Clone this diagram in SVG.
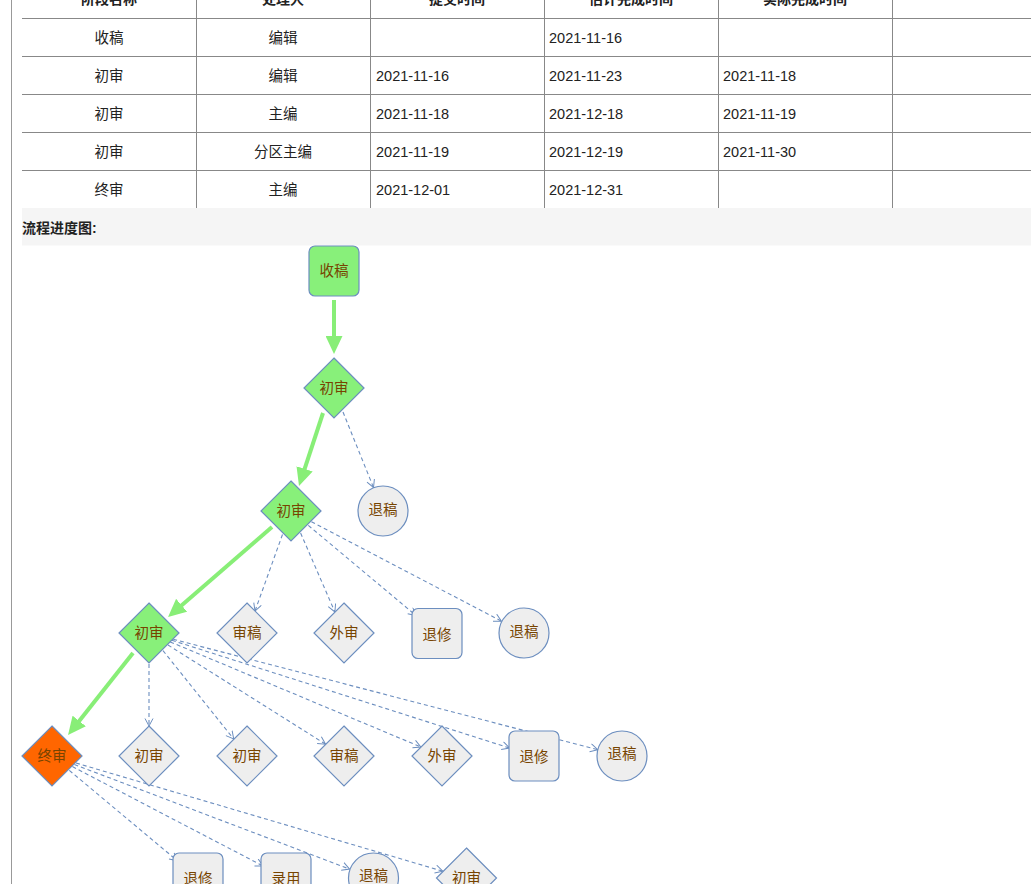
<svg xmlns="http://www.w3.org/2000/svg" width="1031" height="884" viewBox="0 0 1031 884">
<style>
text{font-family:"Liberation Sans","Noto Sans CJK SC",sans-serif;}
.cell{font-size:14.5px;fill:#222;}
.hdr{font-size:14px;font-weight:bold;fill:#222;}
.grid{stroke:#888;stroke-width:1;fill:none;}
.lbl{font-size:14.5px;fill:#774400;text-anchor:middle;dominant-baseline:central;}
.ok{fill:#88f07a;stroke:#6c8ebf;stroke-width:1.2;}
.todo{fill:#eeeeee;stroke:#6c8ebf;stroke-width:1.2;}
.cur{fill:#ff6600;stroke:#6c8ebf;stroke-width:1.2;}
.done{stroke:#88ee77;stroke-width:4;fill:none;marker-end:url(#gArrow);}
.opt{stroke:#6c8ebf;stroke-width:1.1;stroke-dasharray:4 3;fill:none;marker-end:url(#bArrow);}
</style>
<defs>
<marker id="gArrow" markerUnits="userSpaceOnUse" markerWidth="18" markerHeight="17" refX="1" refY="8.5" orient="auto">
<path d="M0,0 L18,8.5 L0,17 z" fill="#88ee77"/>
</marker>
<marker id="bArrow" markerUnits="userSpaceOnUse" markerWidth="10" markerHeight="10" refX="8" refY="4.5" orient="auto">
<path d="M0.5,0.5 L8,4.5 L0.5,8.5" fill="none" stroke="#6c8ebf" stroke-width="1"/>
</marker>
</defs>
<rect x="0" y="0" width="1031" height="884" fill="#ffffff"/>
<line x1="11.5" y1="0" x2="11.5" y2="884" stroke="#999" stroke-width="1"/>

<g id="table">
<g class="grid">
<line x1="22" y1="18.5" x2="1031" y2="18.5"/>
<line x1="22" y1="56.5" x2="1031" y2="56.5"/>
<line x1="22" y1="94.5" x2="1031" y2="94.5"/>
<line x1="22" y1="132.5" x2="1031" y2="132.5"/>
<line x1="22" y1="170.5" x2="1031" y2="170.5"/>
<line x1="196.5" y1="0" x2="196.5" y2="208"/>
<line x1="370.5" y1="0" x2="370.5" y2="208"/>
<line x1="544.5" y1="0" x2="544.5" y2="208"/>
<line x1="718.5" y1="0" x2="718.5" y2="208"/>
<line x1="892.5" y1="0" x2="892.5" y2="208"/>
</g>
<g class="hdr">
<text x="109" y="4" text-anchor="middle">阶段名称</text>
<text x="283" y="4" text-anchor="middle">处理人</text>
<text x="457" y="4" text-anchor="middle">提交时间</text>
<text x="631" y="4" text-anchor="middle">估计完成时间</text>
<text x="805" y="4" text-anchor="middle">实际完成时间</text>
</g>
<g class="cell">
<text x="109" y="42.5" text-anchor="middle">收稿</text>
<text x="283" y="42.5" text-anchor="middle">编辑</text>
<text x="549" y="42.5">2021-11-16</text>

<text x="109" y="80.5" text-anchor="middle">初审</text>
<text x="283" y="80.5" text-anchor="middle">编辑</text>
<text x="376" y="80.5">2021-11-16</text>
<text x="549" y="80.5">2021-11-23</text>
<text x="723" y="80.5">2021-11-18</text>

<text x="109" y="118.5" text-anchor="middle">初审</text>
<text x="283" y="118.5" text-anchor="middle">主编</text>
<text x="376" y="118.5">2021-11-18</text>
<text x="549" y="118.5">2021-12-18</text>
<text x="723" y="118.5">2021-11-19</text>

<text x="109" y="156.5" text-anchor="middle">初审</text>
<text x="283" y="156.5" text-anchor="middle">分区主编</text>
<text x="376" y="156.5">2021-11-19</text>
<text x="549" y="156.5">2021-12-19</text>
<text x="723" y="156.5">2021-11-30</text>

<text x="109" y="194.5" text-anchor="middle">终审</text>
<text x="283" y="194.5" text-anchor="middle">主编</text>
<text x="376" y="194.5">2021-12-01</text>
<text x="549" y="194.5">2021-12-31</text>
</g>
</g>

<g id="section-title">
<rect x="22" y="208" width="1009" height="37.5" fill="#f5f5f5"/>
<text x="22" y="232.5" class="hdr">流程进度图:</text>
</g>

<g id="connectors">
<line class="done" x1="334" y1="300" x2="334" y2="337"/>
<line class="done" x1="323" y1="413" x2="304.3" y2="469.8"/>
<line class="done" x1="272" y1="527" x2="180.9" y2="605.9"/>
<line class="done" x1="133" y1="653" x2="78.6" y2="721.7"/>

<line class="opt" x1="343" y1="412" x2="373.5" y2="487.5"/>

<line class="opt" x1="282.5" y1="534.5" x2="255" y2="611"/>
<line class="opt" x1="300.6" y1="533" x2="334.9" y2="612"/>
<line class="opt" x1="308.3" y1="525.4" x2="416" y2="615.5"/>
<line class="opt" x1="311.4" y1="521.7" x2="501.5" y2="621.2"/>

<line class="opt" x1="149" y1="664" x2="149" y2="726"/>
<line class="opt" x1="163" y1="650.6" x2="233.7" y2="739"/>
<line class="opt" x1="168" y1="645" x2="325.6" y2="744.2"/>
<line class="opt" x1="170.2" y1="641.9" x2="420.9" y2="747"/>
<line class="opt" x1="171.9" y1="640.3" x2="509.5" y2="748"/>
<line class="opt" x1="173.2" y1="639.3" x2="597.8" y2="749.7"/>

<line class="opt" x1="69.3" y1="770.4" x2="177.3" y2="860.7"/>
<line class="opt" x1="72.4" y1="766.6" x2="263" y2="866"/>
<line class="opt" x1="74.4" y1="764.5" x2="349.6" y2="869.1"/>
<line class="opt" x1="76" y1="763" x2="442.8" y2="871.2"/>
</g>

<g id="n-shougao"><rect class="ok" x="309" y="246" width="50" height="50" rx="6"/><text class="lbl" x="334" y="271">收稿</text></g>
<g id="n-chushen1"><path class="ok" d="M334,358 L364,388 L334,418 L304,388 z"/><text class="lbl" x="334" y="388">初审</text></g>
<g id="n-chushen2"><path class="ok" d="M291,481 L321,511 L291,541 L261,511 z"/><text class="lbl" x="291" y="511">初审</text></g>
<g id="n-tuigao1"><circle class="todo" cx="383" cy="511" r="25"/><text class="lbl" x="383" y="510">退稿</text></g>

<g id="n-chushen3"><path class="ok" d="M149,603 L179,633 L149,663 L119,633 z"/><text class="lbl" x="149" y="633">初审</text></g>
<g id="n-shengao1"><path class="todo" d="M247,603 L277,633 L247,663 L217,633 z"/><text class="lbl" x="247" y="633">审稿</text></g>
<g id="n-waishen1"><path class="todo" d="M344,603 L374,633 L344,663 L314,633 z"/><text class="lbl" x="344" y="633">外审</text></g>
<g id="n-tuixiu1"><rect class="todo" x="412" y="608.5" width="50" height="50" rx="6"/><text class="lbl" x="437" y="635">退修</text></g>
<g id="n-tuigao2"><circle class="todo" cx="524" cy="633" r="25"/><text class="lbl" x="524" y="632">退稿</text></g>

<g id="n-zhongshen"><path class="cur" d="M52,726 L82,756 L52,786 L22,756 z"/><text class="lbl" x="52" y="756">终审</text></g>
<g id="n-chushen4"><path class="todo" d="M149,726 L179,756 L149,786 L119,756 z"/><text class="lbl" x="149" y="756">初审</text></g>
<g id="n-chushen5"><path class="todo" d="M247,726 L277,756 L247,786 L217,756 z"/><text class="lbl" x="247" y="756">初审</text></g>
<g id="n-shengao2"><path class="todo" d="M344,726 L374,756 L344,786 L314,756 z"/><text class="lbl" x="344" y="756">审稿</text></g>
<g id="n-waishen2"><path class="todo" d="M442,726 L472,756 L442,786 L412,756 z"/><text class="lbl" x="442" y="756">外审</text></g>
<g id="n-tuixiu2"><rect class="todo" x="509" y="731" width="50" height="50" rx="6"/><text class="lbl" x="534" y="757">退修</text></g>
<g id="n-tuigao3"><circle class="todo" cx="622" cy="756" r="25"/><text class="lbl" x="622" y="754">退稿</text></g>

<g id="n-tuixiu3"><rect class="todo" x="173" y="853" width="50" height="50" rx="6"/><text class="lbl" x="198" y="879">退修</text></g>
<g id="n-luyong"><rect class="todo" x="261" y="853" width="50" height="50" rx="6"/><text class="lbl" x="286" y="879">录用</text></g>
<g id="n-tuigao4"><circle class="todo" cx="373.5" cy="878" r="25"/><text class="lbl" x="373.5" y="876">退稿</text></g>
<g id="n-chushen6"><path class="todo" d="M466.5,848 L496.5,878 L466.5,908 L436.5,878 z"/><text class="lbl" x="466.5" y="878">初审</text></g>
</svg>
